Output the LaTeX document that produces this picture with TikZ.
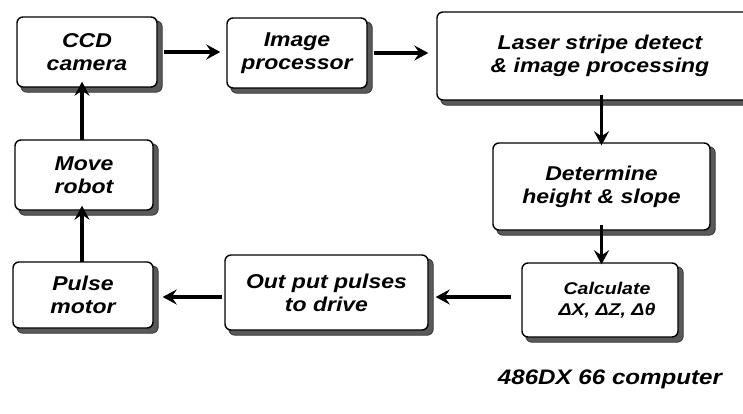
\documentclass[tikz,border=0pt]{standalone}
\usepackage{fontspec}
\setmainfont{Liberation Sans}
\newfontfamily\widefont[FakeStretch=1.15]{Liberation Sans}
\usetikzlibrary{arrows.meta,backgrounds}
\begin{document}
\begin{tikzpicture}[x=1pt,y=-1pt,
  box/.style={draw=black, line width=1.4pt, rounded corners=6pt, fill=white,
    align=center, inner sep=0pt,
    font=\widefont\fontsize{20}{23}\selectfont\bfseries\itshape},
  shadowbox/.style={fill=black!65, draw=black!80, line width=0.8pt, rounded corners=6pt},
  arr/.style={line width=3.4pt, -{Stealth[length=14pt,width=15pt,inset=5pt]}}]
\useasboundingbox (0,0) rectangle (743,414);
\node[box, minimum width=140pt, minimum height=70pt] (ccd) at (87,52) {CCD\\camera};
\node[box, minimum width=140pt, minimum height=70pt] (img) at (297,53) {Image\\processor};
\node[box, minimum width=320pt, minimum height=88pt] (laser) at (597,56) {\hspace*{6pt}Laser stripe detect\\\hspace*{6pt}\& image processing};
\node[box, minimum width=217pt, minimum height=87pt] (det) at (601.5,186.5) {Determine\\height \& slope};
\node[box, minimum width=156pt, minimum height=74pt,
  font=\widefont\fontsize{17}{21}\selectfont\bfseries\itshape] (calc) at (600,300) {\hspace*{14pt}Calculate\\\hspace*{14pt}ΔX, ΔZ, Δθ};
\node[box, minimum width=203pt, minimum height=75pt] (out) at (326.5,292.5) {Out put pulses\\to drive};
\node[box, minimum width=140pt, minimum height=66pt] (pulse) at (83,295) {Pulse\\motor};
\node[box, minimum width=138pt, minimum height=70pt] (move) at (84,175) {Move\\robot};
\node[font=\widefont\fontsize{21}{24}\selectfont\bfseries\itshape] (comp) at (610,379) {486DX 66 computer};
\begin{pgfonlayer}{background}
\fill[white] (0,0) rectangle (743,414);
\foreach \n in {ccd,img,laser,det,calc,out,pulse,move}
  \filldraw[shadowbox] ([shift={(4.5,4.5)}]\n.south west) rectangle ([shift={(4.5,4.5)}]\n.north east);
\end{pgfonlayer}
\draw[arr] ([xshift=6pt]ccd.east) -- ([xshift=-6pt]img.west |- ccd.east);
\draw[arr] ([xshift=6pt]img.east) -- ([xshift=-8pt]img.east -| laser.west);
\draw[arr] ([yshift=6pt]laser.south -| det.north) -- ([yshift=-3pt]det.north);
\draw[arr] ([yshift=6pt]det.south) -- ([yshift=-2pt]det.south |- calc.north);
\draw[arr] ([xshift=-10pt]calc.west |- 0,297) -- ([xshift=7pt]out.east |- 0,297);
\draw[arr] ([xshift=-2pt]out.west |- 0,297) -- ([xshift=9pt]pulse.east |- 0,297);
\draw[arr] ([yshift=-1pt]pulse.north -| 82,0) -- ([yshift=5pt]move.south -| 82,0);
\draw[arr] ([yshift=-1pt]move.north -| 82,0) -- ([yshift=6pt]ccd.south -| 82,0);
\end{tikzpicture}
\end{document}
